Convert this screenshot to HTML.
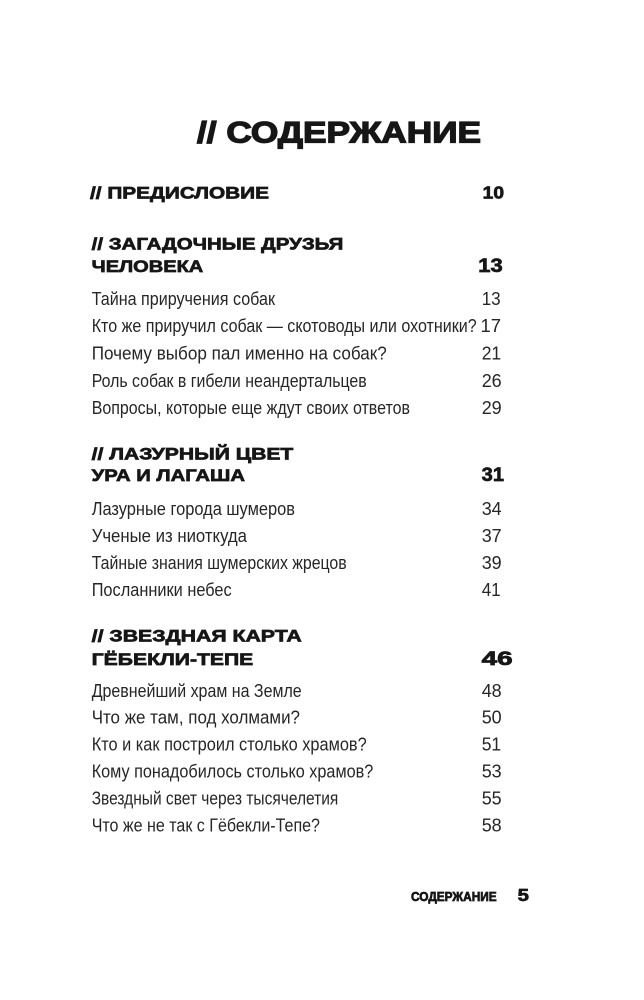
<!DOCTYPE html>
<html>
<head>
<meta charset="utf-8">
<style>
  html, body { margin:0; padding:0; background:#fff; }
  body { width:644px; height:1000px; overflow:hidden; }
  svg { display:block; }
  .h { font-family:"Liberation Sans","DejaVu Sans",sans-serif; font-weight:700; fill:#161616; stroke:#161616; stroke-width:0.7; }
  .t { font-family:"Liberation Sans","DejaVu Sans",sans-serif; font-weight:700; fill:#161616; stroke:#161616; stroke-width:1.3; }
  .b { font-family:"Liberation Sans","DejaVu Sans",sans-serif; font-weight:400; fill:#262626; font-size:18px; }
</style>
</head>
<body>
<svg width="644" height="1000" viewBox="0 0 644 1000" xmlns="http://www.w3.org/2000/svg">
  <rect x="0" y="0" width="644" height="1000" fill="#ffffff"/>

  <!-- Title -->
  <text class="t" x="197" y="142.3" font-size="30" textLength="284" lengthAdjust="spacingAndGlyphs">// СОДЕРЖАНИЕ</text>

  <!-- Предисловие -->
  <text class="h" x="90" y="198.3" font-size="17" textLength="179" lengthAdjust="spacingAndGlyphs">// ПРЕДИСЛОВИЕ</text>
  <text class="h" x="482.7" y="198.3" font-size="17.5" textLength="21.3" lengthAdjust="spacingAndGlyphs">10</text>

  <!-- Section 1 -->
  <text class="h" x="91.7" y="249.7" font-size="17" textLength="251.6" lengthAdjust="spacingAndGlyphs">// ЗАГАДОЧНЫЕ ДРУЗЬЯ</text>
  <text class="h" x="91.7" y="272" font-size="17" textLength="111.6" lengthAdjust="spacingAndGlyphs">ЧЕЛОВЕКА</text>
  <text class="h" x="478.3" y="272" font-size="19" textLength="24.4" lengthAdjust="spacingAndGlyphs">13</text>

  <text class="b" x="91.7" y="305" textLength="183.3" lengthAdjust="spacingAndGlyphs">Тайна приручения собак</text>
  <text class="b" x="481.7" y="305" textLength="19" lengthAdjust="spacingAndGlyphs">13</text>
  <text class="b" x="91.7" y="332" textLength="385" lengthAdjust="spacingAndGlyphs">Кто же приручил собак — скотоводы или охотники?</text>
  <text class="b" x="480.5" y="332" textLength="20.5" lengthAdjust="spacingAndGlyphs">17</text>
  <text class="b" x="91.7" y="359.5" textLength="295" lengthAdjust="spacingAndGlyphs">Почему выбор пал именно на собак?</text>
  <text class="b" x="481.7" y="359.5" textLength="19.5" lengthAdjust="spacingAndGlyphs">21</text>
  <text class="b" x="91.7" y="387" textLength="275" lengthAdjust="spacingAndGlyphs">Роль собак в гибели неандертальцев</text>
  <text class="b" x="481.7" y="387" textLength="20" lengthAdjust="spacingAndGlyphs">26</text>
  <text class="b" x="91.7" y="414" textLength="318.3" lengthAdjust="spacingAndGlyphs">Вопросы, которые еще ждут своих ответов</text>
  <text class="b" x="481.7" y="414" textLength="20" lengthAdjust="spacingAndGlyphs">29</text>

  <!-- Section 2 -->
  <text class="h" x="91.7" y="459.3" font-size="17" textLength="201.6" lengthAdjust="spacingAndGlyphs">// ЛАЗУРНЫЙ ЦВЕТ</text>
  <text class="h" x="91.7" y="481" font-size="17" textLength="153.3" lengthAdjust="spacingAndGlyphs">УРА И ЛАГАША</text>
  <text class="h" x="481.7" y="481" font-size="19" textLength="22.3" lengthAdjust="spacingAndGlyphs">31</text>

  <text class="b" x="91.7" y="515" textLength="203.3" lengthAdjust="spacingAndGlyphs">Лазурные города шумеров</text>
  <text class="b" x="481.7" y="515" textLength="20" lengthAdjust="spacingAndGlyphs">34</text>
  <text class="b" x="91.7" y="542" textLength="155.3" lengthAdjust="spacingAndGlyphs">Ученые из ниоткуда</text>
  <text class="b" x="481.7" y="542" textLength="20" lengthAdjust="spacingAndGlyphs">37</text>
  <text class="b" x="91.7" y="569" textLength="255" lengthAdjust="spacingAndGlyphs">Тайные знания шумерских жрецов</text>
  <text class="b" x="481.7" y="569" textLength="20" lengthAdjust="spacingAndGlyphs">39</text>
  <text class="b" x="91.7" y="596" textLength="140" lengthAdjust="spacingAndGlyphs">Посланники небес</text>
  <text class="b" x="481.7" y="596" textLength="19" lengthAdjust="spacingAndGlyphs">41</text>

  <!-- Section 3 -->
  <text class="h" x="91.7" y="641.7" font-size="17" textLength="210" lengthAdjust="spacingAndGlyphs">// ЗВЕЗДНАЯ КАРТА</text>
  <text class="h" x="91.7" y="665" font-size="17" textLength="161.6" lengthAdjust="spacingAndGlyphs">ГЁБЕКЛИ-ТЕПЕ</text>
  <text class="h" x="481.7" y="665" font-size="19" textLength="31" lengthAdjust="spacingAndGlyphs">46</text>

  <text class="b" x="91.7" y="697" textLength="210" lengthAdjust="spacingAndGlyphs">Древнейший храм на Земле</text>
  <text class="b" x="481.7" y="697" textLength="20" lengthAdjust="spacingAndGlyphs">48</text>
  <text class="b" x="91.7" y="723.7" textLength="208.3" lengthAdjust="spacingAndGlyphs">Что же там, под холмами?</text>
  <text class="b" x="481.7" y="723.7" textLength="20" lengthAdjust="spacingAndGlyphs">50</text>
  <text class="b" x="91.7" y="750.5" textLength="275" lengthAdjust="spacingAndGlyphs">Кто и как построил столько храмов?</text>
  <text class="b" x="481.7" y="750.5" textLength="19.5" lengthAdjust="spacingAndGlyphs">51</text>
  <text class="b" x="91.7" y="777.5" textLength="281.6" lengthAdjust="spacingAndGlyphs">Кому понадобилось столько храмов?</text>
  <text class="b" x="481.7" y="777.5" textLength="20" lengthAdjust="spacingAndGlyphs">53</text>
  <text class="b" x="91.7" y="804.5" textLength="246.6" lengthAdjust="spacingAndGlyphs">Звездный свет через тысячелетия</text>
  <text class="b" x="481.7" y="804.5" textLength="20" lengthAdjust="spacingAndGlyphs">55</text>
  <text class="b" x="91.7" y="831.5" textLength="228.3" lengthAdjust="spacingAndGlyphs">Что же не так с Гёбекли-Тепе?</text>
  <text class="b" x="481.7" y="831.5" textLength="20" lengthAdjust="spacingAndGlyphs">58</text>

  <!-- Footer -->
  <text class="h" x="411" y="900.8" font-size="12.5" stroke-width="0.5" textLength="85.7" lengthAdjust="spacingAndGlyphs">СОДЕРЖАНИЕ</text>
  <text class="h" x="517.7" y="900.8" font-size="17.5" textLength="11.3" lengthAdjust="spacingAndGlyphs">5</text>
</svg>
</body>
</html>
